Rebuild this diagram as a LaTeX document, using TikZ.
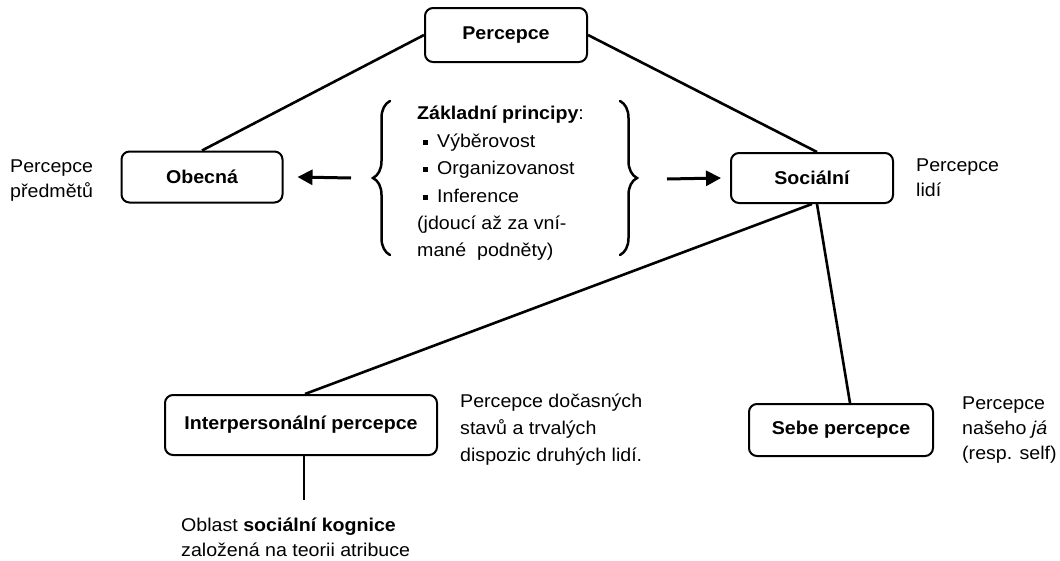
\documentclass[tikz,border=0pt]{standalone}
\usepackage{fontspec}
\setmainfont{Liberation Sans}[FakeStretch=1.06]
\usetikzlibrary{arrows.meta,decorations.pathreplacing}
\tikzset{
  box/.style={draw, line width=2pt, rounded corners=8pt, inner sep=0pt,
    font=\fontsize{18.5}{22}\selectfont\bfseries},
  note/.style={inner sep=0pt, anchor=west, align=left},
  link/.style={line width=2.6pt},
  push/.style={line width=3pt, -{Triangle[length=15pt,width=15pt]}},
  curly/.style={line width=2.5pt, line cap=round, decorate,
    decoration={brace, amplitude=17pt, aspect=0.5}}
}
\newcommand{\sq}{\raisebox{2.5pt}{\rule{5pt}{5pt}}\hspace{9pt}}
\begin{document}
\begin{tikzpicture}[x=1pt,y=-1pt]
\useasboundingbox (0,0) rectangle (1060,560);

% boxes
\node[box, minimum width=162pt, minimum height=54pt] (perc) at (506,35) {Percepce};
\node[box, minimum width=161pt, minimum height=51pt] (obec) at (202,177) {Obecná};
\node[box, minimum width=162pt, minimum height=50pt] (soc) at (812,178) {Sociální};
\node[box, minimum width=272pt, minimum height=60pt] (inter) at (301,425) {Interpersonální percepce};
\node[box, minimum width=184pt, minimum height=52pt] (sebe) at (841,430) {Sebe percepce};

% connectors
\draw[link] (perc.west) -- (obec.north);
\draw[link] (perc.east) -- ([xshift=5pt]soc.north);
\draw[link] (soc.south) -- ([xshift=4pt]inter.north);
\draw[link] ([xshift=5pt]soc.south) -- ([xshift=9pt]sebe.north);
\coordinate (kog) at (304,500);
\draw[link] ([xshift=3pt]inter.south) -- (kog);

% principles between braces
\draw[curly] (390,255) -- (390,101);
\draw[curly] (620,101) -- (620,255);
\node[note, font=\fontsize{18.5}{27.4}\selectfont] (princ) at (417,183.5)
  {\textbf{Základní principy}:\\
   \hspace{6pt}\sq Výběrovost\\
   \hspace{6pt}\sq Organizovanost\\
   \hspace{6pt}\sq Inference\\
   (jdoucí až za vní-\\
   mané\ \ podněty)};

% arrows out of the braces
\coordinate (lt) at (351,178);
\coordinate (rt) at (667,179);
\draw[push] (lt) -- ([xshift=14pt]obec.east);
\draw[push] (rt) -- ([xshift=-9pt]soc.west);

% side notes
\node[note, font=\fontsize{18.5}{25}\selectfont] (n1) at (10,180.5) {Percepce\\předmětů};
\node[note, font=\fontsize{18.5}{25}\selectfont] (n2) at (916,177.5) {Percepce\\lidí};
\node[note, font=\fontsize{18.5}{27}\selectfont] (n3) at (460,430) {Percepce dočasných\\stavů a trvalých\\dispozic druhých lidí.};
\node[note, font=\fontsize{18.5}{25}\selectfont] (n4) at (962,430) {Percepce\\našeho \textit{já}\\(resp. self)};
\node[note, font=\fontsize{18.5}{25}\selectfont] (n5) at (181,537.5) {Oblast \textbf{sociální kognice}\\založená na teorii atribuce};
\end{tikzpicture}
\end{document}
